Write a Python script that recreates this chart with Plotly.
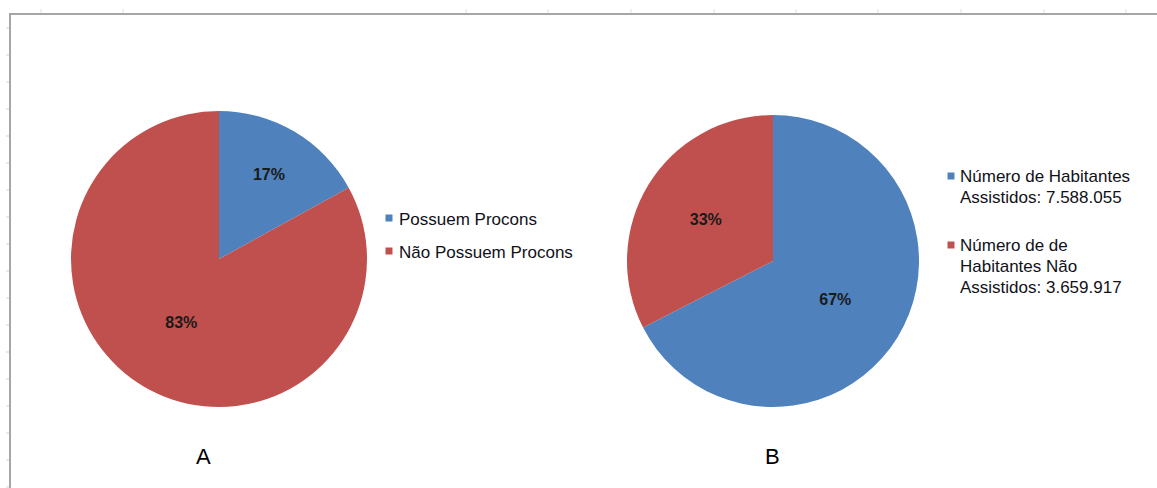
import plotly.graph_objects as go

W, H = 1157, 488

# ---- data ----
labels_a = ["Possuem Procons", "Não Possuem Procons"]
values_a = [17, 83]
labels_b = ["Número de Habitantes<br>Assistidos: 7.588.055",
            "Número de de<br>Habitantes Não<br>Assistidos: 3.659.917"]
values_b = [7588055, 3659917]
panel_titles = ["A", "B"]

colors_a = ["#4F81BD", "#C0504D"]
colors_b = ["#4F81BD", "#C0504D"]

FONT = "Liberation Sans, Arial, sans-serif"
TXT = "#111118"


def px_dom(cx, cy, r):
    return dict(x=[(cx - r) / W, (cx + r) / W],
                y=[1 - (cy + r) / H, 1 - (cy - r) / H])


def pie(labels, values, colors, dom):
    return go.Pie(
        labels=labels, values=values, sort=False, direction="clockwise",
        rotation=0, marker=dict(colors=colors, line=dict(width=0)),
        texttemplate="<b>%{percent:.0%}</b>",
        textposition="inside", insidetextorientation="horizontal",
        textfont=dict(family=FONT, size=16, color="#1a1a1a"),
        domain=dom, showlegend=False, hoverinfo="label+percent",
    )


fig = go.Figure()
fig.add_trace(pie(labels_a, values_a, colors_a, px_dom(219, 259, 148)))
fig.add_trace(pie(labels_b, values_b, colors_b, px_dom(773, 261, 146)))

shapes = []
annotations = []

# frame lines (chart-area border of the original screenshot)
shapes.append(dict(type="line", xref="paper", yref="paper",
                   x0=9 / W, x1=1, y0=1 - 14 / H, y1=1 - 14 / H,
                   line=dict(color="#a6a6a6", width=2)))
shapes.append(dict(type="line", xref="paper", yref="paper",
                   x0=10 / W, x1=10 / W, y0=0, y1=1 - 14 / H,
                   line=dict(color="#a6a6a6", width=2)))
for gx in [41, 123, 466, 548, 631, 714, 796, 878, 961, 1044, 1126]:
    shapes.append(dict(type="line", xref="paper", yref="paper",
                       x0=gx / W, x1=gx / W, y0=1 - 9 / H, y1=1 - 13 / H,
                       line=dict(color="#dde0ea", width=1)))
for gy in range(28, 488, 27):
    shapes.append(dict(type="line", xref="paper", yref="paper",
                       x0=6 / W, x1=9 / W, y0=1 - gy / H, y1=1 - gy / H,
                       line=dict(color="#d0d3dc", width=1)))


# custom legends (small squares + text, as in the original)
def legend(labels, colors, sq_x, text_x, entry_tops, step=20.5):
    for lab, col, top in zip(labels, colors, entry_tops):
        shapes.append(dict(type="rect", xref="paper", yref="paper",
                           x0=(sq_x - 3.5) / W, x1=(sq_x + 3.5) / W,
                           y0=1 - (top - 3.5) / H, y1=1 - (top + 3.5) / H,
                           fillcolor=col, line=dict(width=0)))
        for i, line in enumerate(lab.split("<br>")):
            annotations.append(dict(
                text=line, x=text_x / W, y=1 - (top + 1 + i * step) / H,
                xref="paper", yref="paper", showarrow=False,
                xanchor="left", yanchor="middle",
                font=dict(family=FONT, size=17, color=TXT)))


legend(labels_a, colors_a, 389, 397, [218, 251])
legend(labels_b, colors_b, 951, 958, [176, 245])

for t, x in zip(panel_titles, [203, 772]):
    annotations.append(dict(text=t, x=x / W, y=1 - 456 / H, xref="paper", yref="paper",
                            showarrow=False, xanchor="center", yanchor="middle",
                            font=dict(family=FONT, size=22, color="#000000")))

fig.update_layout(
    width=W, height=H, margin=dict(l=0, r=0, t=0, b=0),
    paper_bgcolor="white", plot_bgcolor="white",
    showlegend=False,
    shapes=shapes, annotations=annotations,
)

fig.write_html("out.html")
